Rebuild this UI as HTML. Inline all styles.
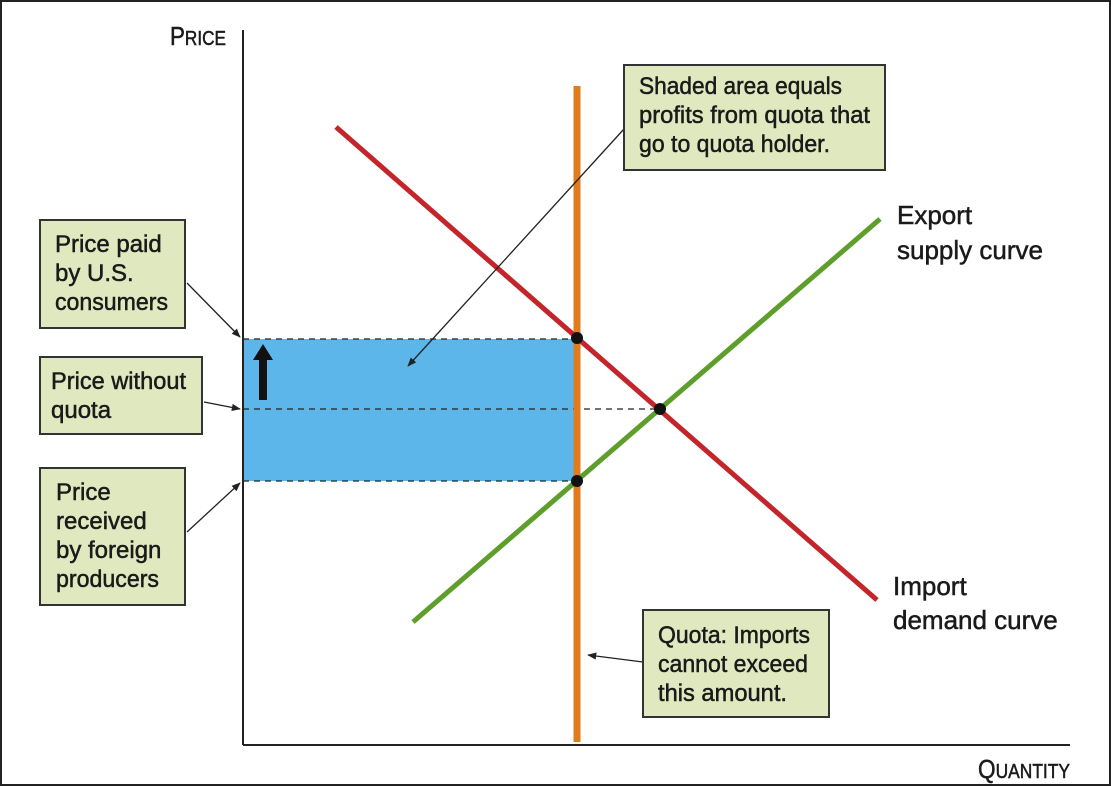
<!DOCTYPE html>
<html><head><meta charset="utf-8"><style>
html,body{margin:0;padding:0;background:#fff}
svg{display:block}
text{font-family:"Liberation Sans",sans-serif;fill:#1a1a1a;stroke:#1a1a1a;stroke-width:0.5}
.t{font-size:24px}
</style></head><body>
<svg width="1111" height="787" viewBox="0 0 1111 787" xmlns="http://www.w3.org/2000/svg">
<defs>
<marker id="ah" viewBox="0 0 10 10" refX="9" refY="5" markerWidth="7" markerHeight="7" orient="auto"><path d="M0,1 L10,5 L0,9 z" fill="#222"/></marker>
</defs>
<rect x="1" y="1" width="1109" height="784" fill="#fff" stroke="#222" stroke-width="2"/>
<rect x="243" y="339" width="331" height="142" fill="#5db6ea"/>
<g stroke="#222" stroke-width="1.3" stroke-dasharray="6,5">
<line x1="243" y1="339" x2="577" y2="339"/>
<line x1="243" y1="409" x2="660" y2="409"/>
<line x1="243" y1="481" x2="577" y2="481"/>
</g>
<line x1="243" y1="30" x2="243" y2="745" stroke="#222" stroke-width="2"/>
<line x1="243" y1="745" x2="1070" y2="745" stroke="#222" stroke-width="2"/>
<line x1="577" y1="86" x2="577" y2="742" stroke="#e07b1e" stroke-width="7"/>
<line x1="336" y1="127" x2="877" y2="600" stroke="#c4252a" stroke-width="5"/>
<line x1="413" y1="622" x2="880" y2="219" stroke="#5e9e2a" stroke-width="5"/>
<circle cx="577" cy="338" r="6" fill="#111"/>
<circle cx="660" cy="409" r="6" fill="#111"/>
<circle cx="577" cy="481" r="6" fill="#111"/>
<path d="M259,400 h8 v-40 h6 l-10,-16 l-10,16 h6 z" fill="#111"/>
<g stroke="#222" stroke-width="1.3" fill="none" marker-end="url(#ah)">
<line x1="187" y1="283" x2="240" y2="337"/>
<line x1="204" y1="402" x2="240" y2="409"/>
<line x1="187" y1="532" x2="240" y2="483"/>
<line x1="624" y1="129" x2="408" y2="366"/>
<line x1="643" y1="662" x2="588" y2="655"/>
</g>
<g fill="#e0e8bf" stroke="#333" stroke-width="2">
<rect x="40" y="220" width="145" height="108"/>
<rect x="40" y="357" width="162" height="77"/>
<rect x="40" y="468" width="145" height="137"/>
<rect x="624" y="65" width="261" height="105"/>
<rect x="643" y="610" width="186" height="107"/>
</g>
<text class="t"><tspan x="55" y="252">Price paid</tspan><tspan x="55" y="281">by U.S.</tspan><tspan x="55" y="310" textLength="113" lengthAdjust="spacingAndGlyphs">consumers</tspan></text>
<text class="t"><tspan x="51" y="389" textLength="135" lengthAdjust="spacingAndGlyphs">Price without</tspan><tspan x="51" y="418">quota</tspan></text>
<text class="t"><tspan x="56" y="500">Price</tspan><tspan x="56" y="529">received</tspan><tspan x="56" y="558">by foreign</tspan><tspan x="56" y="587" textLength="103" lengthAdjust="spacingAndGlyphs">producers</tspan></text>
<text class="t"><tspan x="639" y="94" textLength="203" lengthAdjust="spacingAndGlyphs">Shaded area equals</tspan><tspan x="639" y="123" textLength="231" lengthAdjust="spacingAndGlyphs">profits from quota that</tspan><tspan x="639" y="152" textLength="191" lengthAdjust="spacingAndGlyphs">go to quota holder.</tspan></text>
<text class="t"><tspan x="658" y="643" textLength="152" lengthAdjust="spacingAndGlyphs">Quota: Imports</tspan><tspan x="658" y="672" textLength="150" lengthAdjust="spacingAndGlyphs">cannot exceed</tspan><tspan x="658" y="701" textLength="129" lengthAdjust="spacingAndGlyphs">this amount.</tspan></text>
<text style="font-size:26px"><tspan x="897" y="224">Export</tspan><tspan x="897" y="259">supply curve</tspan></text>
<text style="font-size:26px"><tspan x="893" y="595">Import</tspan><tspan x="893" y="629">demand curve</tspan></text>
<text x="170" y="45" style="font-size:26px" textLength="56" lengthAdjust="spacingAndGlyphs">P<tspan style="font-size:20px">RICE</tspan></text>
<text x="978" y="778" style="font-size:26px" textLength="92" lengthAdjust="spacingAndGlyphs">Q<tspan style="font-size:20px">UANTITY</tspan></text>
</svg>
</body></html>
